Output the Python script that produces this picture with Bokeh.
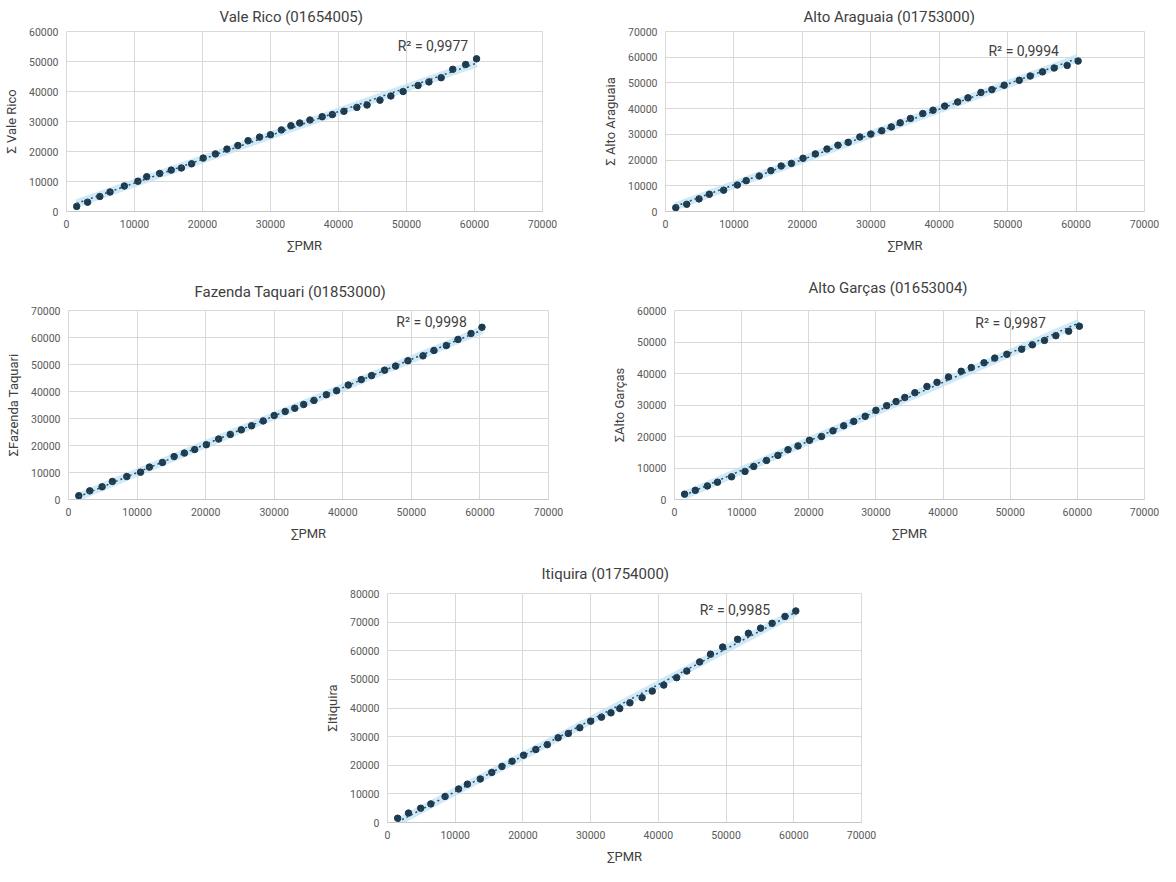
import numpy as np
from bokeh.plotting import figure
from bokeh.models import Range1d, FixedTicker, Label, Title
from bokeh.layouts import column, row, Spacer
from bokeh.embed import file_html
from bokeh.resources import INLINE

# ---- data ----
spmr = [1500, 3100, 4900, 6400, 8500, 10500, 11800, 13700, 15400, 16900, 18400, 20100,
        21900, 23600, 25200, 26700, 28400, 30000, 31600, 33000, 34300, 35800, 37600, 39100,
        40800, 42700, 44200, 46100, 47700, 49500, 51700, 53300, 55100, 56800, 58700, 60300]

vale_rico = [1700, 3100, 5000, 6500, 8500, 10100, 11600, 12700, 13800, 14500, 15900, 17800,
             19200, 20800, 22000, 23600, 24800, 25600, 27200, 28600, 29500, 30500, 31600, 32300,
             33400, 34700, 35500, 37100, 38500, 40000, 42000, 43200, 44600, 47400, 49000, 50900]

alto_araguaia = [1500, 2800, 4900, 6700, 8300, 10300, 12000, 13800, 15900, 17700, 18700, 20700,
                 22400, 24300, 25800, 26900, 29000, 30100, 31400, 32900, 34500, 36200, 38100, 39400,
                 41000, 42600, 44200, 46300, 47400, 49100, 51000, 52700, 54300, 55800, 56800, 58500]

fazenda_taquari = [1400, 3200, 4700, 6700, 8500, 10100, 12000, 13700, 15900, 17200, 18500, 20300,
                   22400, 24100, 25800, 27300, 29100, 31100, 32600, 33800, 35200, 36700, 38800, 40300,
                   42400, 44400, 45900, 47900, 49400, 51400, 53200, 55200, 57000, 59300, 61500, 63800]

alto_garcas = [1700, 2900, 4300, 5500, 7200, 8900, 10500, 12400, 14000, 15800, 17000, 18800,
               20000, 21800, 23400, 24800, 26400, 28300, 29800, 31100, 32400, 33900, 35900, 37200,
               38900, 40700, 41900, 43400, 44900, 46100, 47700, 49100, 50500, 52000, 53400, 55000]

itiquira = [1500, 3300, 5000, 6500, 9100, 11700, 13400, 15200, 17500, 19600, 21400, 23500,
            25500, 27200, 29600, 31100, 33100, 35400, 36800, 38300, 39800, 41800, 43600, 45900,
            48000, 50600, 52900, 56100, 58800, 61300, 64000, 66100, 67900, 69600, 72000, 73900]

titles = ["Vale Rico (01654005)", "Alto Araguaia (01753000)", "Fazenda Taquari (01853000)",
          "Alto Garças (01653004)", "Itiquira (01754000)"]
ylabels = ["Σ Vale Rico", "Σ Alto Araguaia", "ΣFazenda Taquari", "ΣAlto Garças", "ΣItiquira"]
r2_texts = ["R² = 0,9977", "R² = 0,9994", "R² = 0,9998", "R² = 0,9987", "R² = 0,9985"]
y_max = [60000, 70000, 70000, 60000, 80000]
x_ticks = [0, 10000, 20000, 30000, 40000, 50000, 60000, 70000]
x_label = "∑PMR"

FONT = "Roboto"
TXT = "#404040"
TICK = "#595959"
GRID = "#d9d9d9"
MARK = "#1d3a4e"


def panel(i, ys, w, h, left, right, top, bottom, t_off, t_stand, r2x, r2y):
    p = figure(width=w, height=h, output_backend="svg", toolbar_location=None,
               x_range=Range1d(0, 70000), y_range=Range1d(0, y_max[i]),
               min_border_left=left, min_border_right=right,
               min_border_top=top, min_border_bottom=bottom,
               background_fill_color="white", border_fill_color="white")
    p.title = Title(text=titles[i], align="left", offset=t_off, standoff=t_stand,
                    text_font=FONT, text_font_size="15px", text_font_style="normal",
                    text_color=TXT)
    p.outline_line_color = GRID
    p.xaxis.ticker = FixedTicker(ticks=x_ticks)
    p.yaxis.ticker = FixedTicker(ticks=list(range(0, y_max[i] + 1, 10000)))
    for ax in (p.xaxis[0], p.yaxis[0]):
        ax.major_tick_in = 0
        ax.major_tick_out = 0
        ax.minor_tick_in = 0
        ax.minor_tick_out = 0
        ax.major_label_text_font = FONT
        ax.major_label_text_font_size = "10.5px"
        ax.major_label_text_color = TICK
        ax.axis_label_text_font = FONT
        ax.axis_label_text_font_size = "13px"
        ax.axis_label_text_font_style = "normal"
        ax.axis_label_text_color = TXT
        ax.major_label_standoff = 8
        ax.axis_label_standoff = 7
    p.xaxis.axis_line_color = "#c8c8c8"
    p.yaxis.axis_line_color = None
    p.xaxis.axis_label = x_label
    p.yaxis.axis_label = ylabels[i]
    p.xgrid.grid_line_color = GRID
    p.ygrid.grid_line_color = GRID

    # linear trendline from data
    a, b = np.polyfit(spmr, ys, 1)
    xl = [min(spmr), max(spmr)]
    yl = [a * v + b for v in xl]
    p.line(xl, yl, line_color="#bfe2f4", line_width=8, line_alpha=0.75)
    p.scatter(spmr, ys, size=6.5, fill_color=MARK, line_color=MARK, marker="circle")
    p.line(xl, yl, line_color="#2c4f6b", line_width=1.5, line_dash="2 3")

    p.add_layout(Label(x=r2x, y=r2y, text=r2_texts[i], text_font=FONT,
                       text_font_size="14px", text_color=TXT,
                       text_align="left", text_baseline="middle"))
    return p


p1 = panel(0, vale_rico, 572, 262, 62, 30, 30, 51, 153, 11, 48700, 55300)
p2 = panel(1, alto_araguaia, 588, 262, 93, 16, 30, 51, 138, 11, 47200, 62300)
p3 = panel(2, fazenda_taquari, 572, 290, 68, 24, 39, 53, 126, 20, 47800, 65800)
p4 = panel(3, alto_garcas, 588, 290, 102, 16, 47, 44, 134, 28, 44800, 56100)
p5 = panel(4, itiquira, 608, 314, 105, 29, 41, 44, 154, 21, 46100, 74400)

layout = column(row(p1, p2), row(p3, p4), row(Spacer(width=282, height=314), p5))

open("out.html", "w").write(file_html(layout, INLINE))
